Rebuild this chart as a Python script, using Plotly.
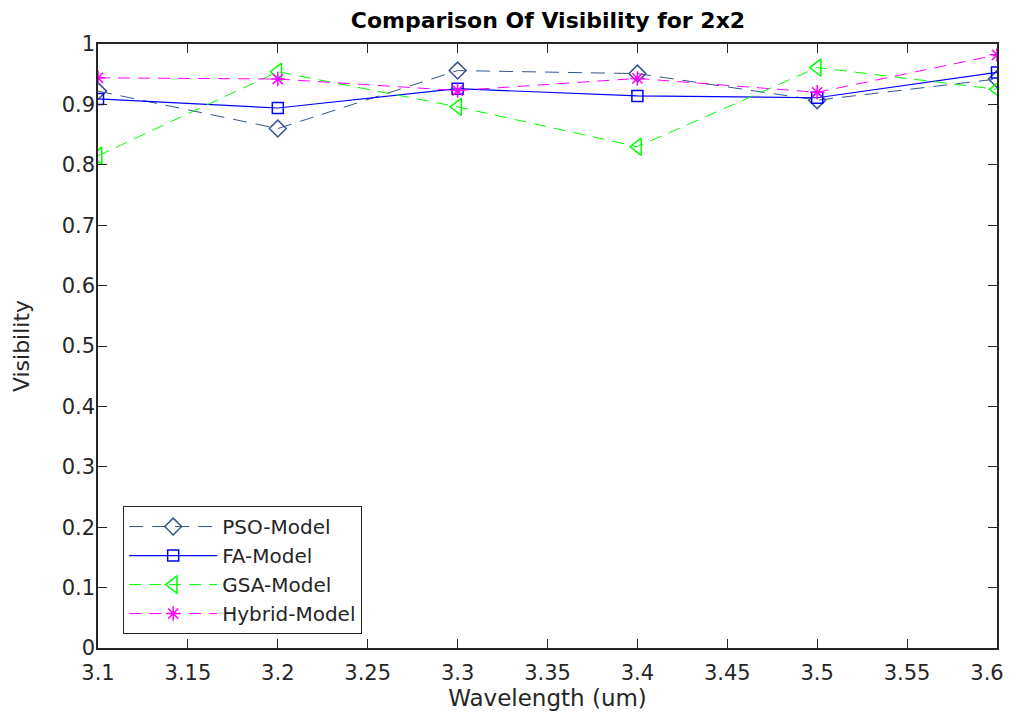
import plotly.graph_objects as go

wavelength = [3.1, 3.2, 3.3, 3.4, 3.5, 3.6]
pso = [0.922, 0.860, 0.956, 0.951, 0.907, 0.942]
fa = [0.909, 0.894, 0.926, 0.914, 0.911, 0.953]
gsa = [0.815, 0.954, 0.896, 0.830, 0.961, 0.925]
hybrid = [0.944, 0.942, 0.923, 0.943, 0.920, 0.982]

x_tickvals = [3.1, 3.15, 3.2, 3.25, 3.3, 3.35, 3.4, 3.45, 3.5, 3.55, 3.6]
x_ticktext = ["3.1", "3.15", "3.2", "3.25", "3.3", "3.35", "3.4", "3.45", "3.5", "3.55", "3.6\u00a0\u00a0\u00a0"]
y_tickvals = [0, 0.1, 0.2, 0.3, 0.4, 0.5, 0.6, 0.7, 0.8, 0.9, 1]
y_ticktext = ["0", "0.1", "0.2", "0.3", "0.4", "0.5", "0.6", "0.7", "0.8", "0.9", "1"]

FONT = "DejaVu Sans, Liberation Sans, Arial"

fig = go.Figure()
fig.add_trace(go.Scatter(x=wavelength, y=pso, name="PSO-Model", mode="lines+markers",
                         line=dict(color="#34568B", width=1, dash="14px,9px"),
                         marker=dict(symbol="diamond-open", size=13, color="#34568B", line=dict(width=1.5))))
fig.add_trace(go.Scatter(x=wavelength, y=fa, name="FA-Model", mode="lines+markers",
                         line=dict(color="#0000FF", width=1.2),
                         marker=dict(symbol="square-open", size=11, color="#0000FF", line=dict(width=1.5))))
fig.add_trace(go.Scatter(x=wavelength, y=gsa, name="GSA-Model", mode="lines+markers",
                         line=dict(color="#00FF00", width=1, dash="12px,8px"),
                         marker=dict(symbol="triangle-left-open", size=15, color="#00FF00", line=dict(width=1.5))))
fig.add_trace(go.Scatter(x=wavelength, y=hybrid, name="Hybrid-Model", mode="lines+markers",
                         line=dict(color="#FF00FF", width=1, dash="12px,8px"),
                         marker=dict(symbol="asterisk-open", size=12, color="#FF00FF", line=dict(width=1.5, color="#FF00FF"))))

axis_common = dict(showgrid=False, zeroline=False, showline=True, linecolor="#262626", linewidth=1.5,
                   mirror="ticks", ticks="inside", ticklen=9, tickcolor="#262626", tickwidth=1.2,
                   automargin=False, ticklabeloverflow="allow",
                   tickfont=dict(family=FONT, size=21, color="#262626"))

fig.update_layout(
    width=1000, height=703,
    margin=dict(l=90, r=11, t=36, b=63, autoexpand=False),
    paper_bgcolor="white", plot_bgcolor="white",
    title=dict(text="<b>Comparison Of Visibility for 2x2</b>", x=0.54, xanchor="center", y=0.983, yanchor="middle",
               font=dict(family=FONT, size=22, color="black")),
    xaxis=dict(range=[3.1, 3.6], tickvals=x_tickvals, ticktext=x_ticktext,
               ticklabelstandoff=5,
               title=dict(text="Wavelength (um)", font=dict(family=FONT, size=23, color="#262626"), standoff=17),
               **axis_common),
    yaxis=dict(range=[0, 1], tickvals=y_tickvals, ticktext=y_ticktext,
               ticklabelstandoff=-3,
               title=dict(text="Visibility", font=dict(family=FONT, size=22, color="#262626"), standoff=26),
               **axis_common),
    legend=dict(x=0.028, y=0.235, xanchor="left", yanchor="top", bgcolor="white",
                bordercolor="#262626", borderwidth=1,
                font=dict(family=FONT, size=20, color="#262626"),
                tracegroupgap=0, itemwidth=88),
    showlegend=True,
)

fig.write_html("out.html")
